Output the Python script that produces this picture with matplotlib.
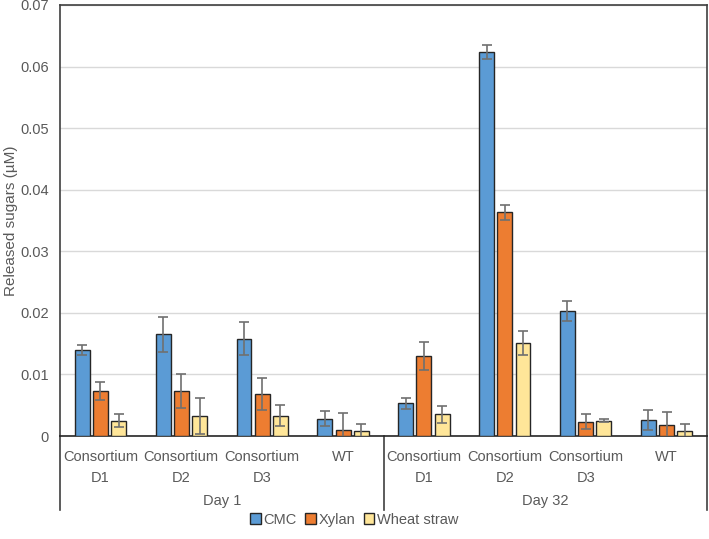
import numpy as np
import matplotlib.pyplot as plt
from matplotlib.patches import Patch

plt.rcParams['font.family'] = ['Liberation Sans', 'DejaVu Sans']

groups = ['Consortium\nD1', 'Consortium\nD2', 'Consortium\nD3', 'WT',
          'Consortium\nD1', 'Consortium\nD2', 'Consortium\nD3', 'WT']
days = ['Day 1', 'Day 32']
series = ['CMC', 'Xylan', 'Wheat straw']

cmc = [0.0140, 0.0165, 0.0158, 0.0028, 0.0053, 0.0624, 0.0203, 0.0026]
cmc_err = [0.0008, 0.0028, 0.0027, 0.0012, 0.0009, 0.0011, 0.0016, 0.0016]
xylan = [0.0073, 0.0073, 0.0068, 0.0010, 0.0130, 0.0363, 0.0023, 0.0018]
xylan_err = [0.0014, 0.0028, 0.0026, 0.0027, 0.0022, 0.0012, 0.0012, 0.0021]
wheat = [0.0025, 0.0033, 0.0033, 0.0008, 0.0035, 0.0151, 0.0025, 0.0008]
wheat_err = [0.0010, 0.0029, 0.0017, 0.0011, 0.0014, 0.0019, 0.0003, 0.0012]

colors = ['#5B9BD5', '#ED7D31', '#FFE699']
text_col = '#595959'

fig = plt.figure(figsize=(7.09, 5.39), dpi=100)
ax = fig.add_axes([60 / 709, 103 / 539, 647 / 709, 431 / 539])

x = np.arange(len(groups))
w = 0.185
off = 0.225
for i, (vals, errs) in enumerate([(cmc, cmc_err), (xylan, xylan_err), (wheat, wheat_err)]):
    ax.bar(x + (i - 1) * off, vals, width=w, color=colors[i], edgecolor='#262626',
           linewidth=1.0, zorder=3)
    ax.errorbar(x + (i - 1) * off, vals, yerr=errs, fmt='none', ecolor='#707070',
                elinewidth=1.2, capsize=3.5, capthick=1.2, zorder=4)

ax.set_xlim(-0.5, len(groups) - 0.5)
ax.set_ylim(0, 0.07)
ax.set_yticks(np.arange(0, 0.071, 0.01))
ax.set_yticklabels(['0', '0.01', '0.02', '0.03', '0.04', '0.05', '0.06', '0.07'])
ax.tick_params(axis='y', length=0, labelsize=10.5, colors=text_col, pad=8)
ax.tick_params(axis='x', length=0)
ax.set_xticks([])
ax.yaxis.grid(True, color='#d9d9d9', linewidth=1.0)
ax.set_axisbelow(True)
ax.set_ylabel('Released sugars (µM)', fontsize=11, color=text_col)
ax.yaxis.set_label_coords(-0.065, 0.5)

for s in ['left', 'top', 'right']:
    ax.spines[s].set_color('#404040')
    ax.spines[s].set_linewidth(1.2)
ax.spines['bottom'].set_color('#262626')
ax.spines['bottom'].set_linewidth(1.2)

# category labels below the axis
for xi, g in zip(x, groups):
    ax.text(xi, -0.0023, g, ha='center', va='top', fontsize=10.5, color=text_col,
            linespacing=1.6, clip_on=False)
for k, d in enumerate(days):
    ax.text(1.5 + 4 * k, -0.0095, d, ha='center', va='top', fontsize=10.5,
            color=text_col, clip_on=False)

# separator lines
for xs in [-0.5, 3.5, 7.5]:
    ax.plot([xs, xs], [0, -0.012], color='#404040', linewidth=1.2, clip_on=False)

handles = [Patch(facecolor=c, edgecolor='#262626', label=s) for c, s in zip(colors, series)]
fig.legend(handles=handles, loc='center', bbox_to_anchor=(0.5, 0.036), ncol=3,
           frameon=False, fontsize=10.5, handlelength=0.7, handleheight=0.7,
           handletextpad=0.2, columnspacing=0.6, labelcolor=text_col)

fig.savefig('out.png', dpi=100)
